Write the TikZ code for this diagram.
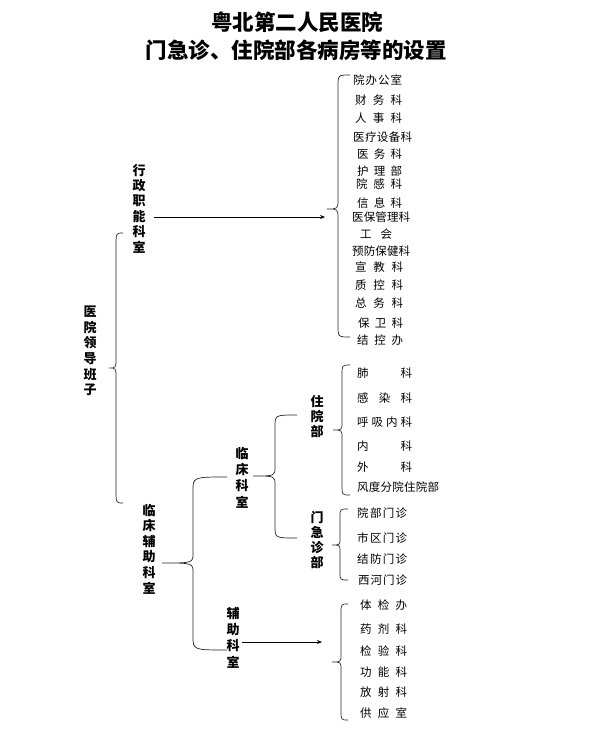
\documentclass[tikz,border=0pt]{standalone}
\usepackage{fontspec}
\setmainfont{Noto Sans CJK SC}
\usetikzlibrary{arrows.meta}
\newcommand\spr[2]{\hbox to #1pt{#2}}
% xline xtip xend ytop ytip ybot rend rtip
\newcommand\brc[8]{%
\draw[brcline] (#3,#4) .. controls (#1,#4) .. (#1,{#4+#7}) -- (#1,{#5-#8})
  .. controls (#1,#5) .. (#2,#5) .. controls (#1,#5) .. (#1,{#5+#8})
  -- (#1,{#6-#7}) .. controls (#1,#6) .. (#3,#6);}
\tikzset{
 lbl/.style={font=\bfseries\fontsize{13}{#1}\selectfont, align=center, inner sep=0pt},
 lbl/.default=15.5,
 itm/.style={font=\fontsize{11.5}{12}\selectfont, anchor=west, inner sep=0pt},
 ttl/.style={font=\bfseries\fontsize{21.5}{24}\selectfont, inner sep=0pt},
 brcline/.style={line width=0.7pt, draw=black!85},
 arr/.style={line width=0.7pt, -{Stealth[length=5pt,width=4pt]}}
}
\begin{document}
\begin{tikzpicture}[x=1pt,y=-1pt]
\path[fill=white] (0,0) rectangle (592,736);
% title
\node[ttl] (t1) at (297,22) {粤北第二人民医院};
\node[ttl] (t2) at (296,50) {门急诊、住院部各病房等的设置};
% labels
\node[lbl=15.4] (xz) at (139,208.5) {行\\政\\职\\能\\科\\室};
\node[lbl=15.6] (ld) at (90,351) {医\\院\\领\\导\\班\\子};
\node[lbl=15.6] (lcfz) at (149,549) {临\\床\\辅\\助\\科\\室};
\node[lbl=16.3] (lc) at (242,477.5) {临\\床\\科\\室};
\node[lbl=15] (zy) at (317,417) {住\\院\\部};
\node[lbl=15] (mj) at (317,540.5) {门\\急\\诊\\部};
\node[lbl=16.3] (fz) at (233,637.5) {辅\\助\\科\\室};
% braces
\brc{116}{109}{123}{233}{368}{503}{14}{10}
\brc{338}{327}{350}{75}{209}{337}{12}{10}
\brc{193}{162}{227}{477}{563}{650}{14}{10}
\brc{275}{253}{297}{415}{476}{538}{12}{9}
\brc{342}{333}{350}{365}{430}{495}{10}{8}
\brc{340}{332}{348}{509}{545}{580}{8}{7}
\brc{341}{332}{348}{604}{662}{720}{10}{8}
% arrows
\coordinate (a1s) at (154,217);
\coordinate (a1e) at (325,217);
\draw[arr] (a1s) -- (a1e);
\coordinate (a2s) at (242,642);
\coordinate (a2e) at (322,642);
\draw[arr] (a2s) -- (a2e);
% admin items
\node[itm] (i1) at (353,80) {\spr{49}{院\hfill 办\hfill 公\hfill 室}};
\node[itm] (i2) at (355,100) {\spr{47}{财\hfill 务\hfill 科}};
\node[itm] (i3) at (355,118) {\spr{47}{人\hfill 事\hfill 科}};
\node[itm] (i4) at (353,137) {\spr{59}{医\hfill 疗\hfill 设\hfill 备\hfill 科}};
\node[itm] (i5) at (357,154) {\spr{45}{医\hfill 务\hfill 科}};
\node[itm] (i6) at (357,171) {\spr{45}{护\hfill 理\hfill 部}};
\node[itm] (i7) at (356,184) {\spr{46}{院\hfill 感\hfill 科}};
\node[itm] (i8) at (357,203) {\spr{45}{信\hfill 息\hfill 科}};
\node[itm] (i9) at (352,217) {\spr{58}{医\hfill 保\hfill 管\hfill 理\hfill 科}};
\node[itm] (i10) at (360,234) {\spr{32}{工\hfill 会}};
\node[itm] (i11) at (352,251) {\spr{58}{预\hfill 防\hfill 保\hfill 健\hfill 科}};
\node[itm] (i12) at (355,267) {\spr{48}{宣\hfill 教\hfill 科}};
\node[itm] (i13) at (355,285) {\spr{48}{质\hfill 控\hfill 科}};
\node[itm] (i14) at (355,303) {\spr{48}{总\hfill 务\hfill 科}};
\node[itm] (i15) at (358,323) {\spr{45}{保\hfill 卫\hfill 科}};
\node[itm] (i16) at (357,340) {\spr{46}{结\hfill 控\hfill 办}};
% inpatient
\node[itm] (z1) at (357,373) {\spr{55}{肺\hfill 科}};
\node[itm] (z2) at (357,398) {\spr{55}{感\hfill 染\hfill 科}};
\node[itm] (z3) at (357,422) {\spr{55}{呼\hfill 吸\hfill 内\hfill 科}};
\node[itm] (z4) at (357,446) {\spr{55}{内\hfill 科}};
\node[itm] (z5) at (357,467) {\spr{55}{外\hfill 科}};
\node[itm] (z6) at (357,487) {\spr{82}{风\hfill 度\hfill 分\hfill 院\hfill 住\hfill 院\hfill 部}};
% outpatient
\node[itm] (m1) at (357,513) {\spr{50}{院\hfill 部\hfill 门\hfill 诊}};
\node[itm] (m2) at (357,538) {\spr{50}{市\hfill 区\hfill 门\hfill 诊}};
\node[itm] (m3) at (357,559) {\spr{50}{结\hfill 防\hfill 门\hfill 诊}};
\node[itm] (m4) at (358,580) {\spr{49}{西\hfill 河\hfill 门\hfill 诊}};
% auxiliary
\node[itm] (f1) at (360,605) {\spr{47}{体\hfill 检\hfill 办}};
\node[itm] (f2) at (360,629) {\spr{47}{药\hfill 剂\hfill 科}};
\node[itm] (f3) at (360,651) {\spr{47}{检\hfill 验\hfill 科}};
\node[itm] (f4) at (360,672) {\spr{47}{功\hfill 能\hfill 科}};
\node[itm] (f5) at (360,692) {\spr{47}{放\hfill 射\hfill 科}};
\node[itm] (f6) at (360,713) {\spr{47}{供\hfill 应\hfill 室}};
\end{tikzpicture}
\end{document}
